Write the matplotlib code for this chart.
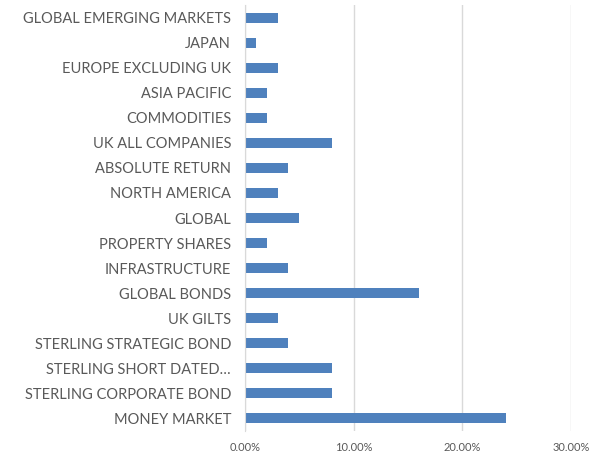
import numpy as np
import matplotlib.pyplot as plt
from matplotlib.ticker import FuncFormatter

categories = [
    "GLOBAL EMERGING MARKETS",
    "JAPAN",
    "EUROPE EXCLUDING UK",
    "ASIA PACIFIC",
    "COMMODITIES",
    "UK ALL COMPANIES",
    "ABSOLUTE RETURN",
    "NORTH AMERICA",
    "GLOBAL",
    "PROPERTY SHARES",
    "INFRASTRUCTURE",
    "GLOBAL BONDS",
    "UK GILTS",
    "STERLING STRATEGIC BOND",
    "STERLING SHORT DATED\u2026",
    "STERLING CORPORATE BOND",
    "MONEY MARKET",
]
values = [0.03, 0.01, 0.03, 0.02, 0.02, 0.08, 0.04, 0.03, 0.05, 0.02,
          0.04, 0.16, 0.03, 0.04, 0.08, 0.08, 0.24]
xticks = [0.0, 0.10, 0.20, 0.30]

plt.rcParams['font.family'] = ['Lato', 'DejaVu Sans']

fig = plt.figure(figsize=(6.03, 4.54), dpi=100)
ax = fig.add_axes([245 / 603, 1 - 431 / 454, (571 - 245) / 603, (431 - 5) / 454])

y = np.arange(len(categories))
ax.barh(y, values, height=0.4, color="#4F81BD")
ax.set_yticks(y)
ax.set_yticklabels(categories, fontsize=10.5, color="#595959")
ax.set_ylim(len(categories) - 0.5, -0.5)

ax.set_xlim(0, 0.30)
ax.set_xticks(xticks)
ax.xaxis.set_major_formatter(FuncFormatter(lambda v, p: f"{v * 100:.2f}%"))
ax.tick_params(axis="x", labelsize=8, colors="#595959", length=0, pad=8)
ax.tick_params(axis="y", length=0, pad=10)
ax.grid(axis="x", color="#D9D9D9", linewidth=1)
ax.set_axisbelow(True)
for side in ["top", "right", "bottom"]:
    ax.spines[side].set_visible(False)
ax.spines["left"].set_color("#D9D9D9")

fig.savefig("out.png", dpi=100)
